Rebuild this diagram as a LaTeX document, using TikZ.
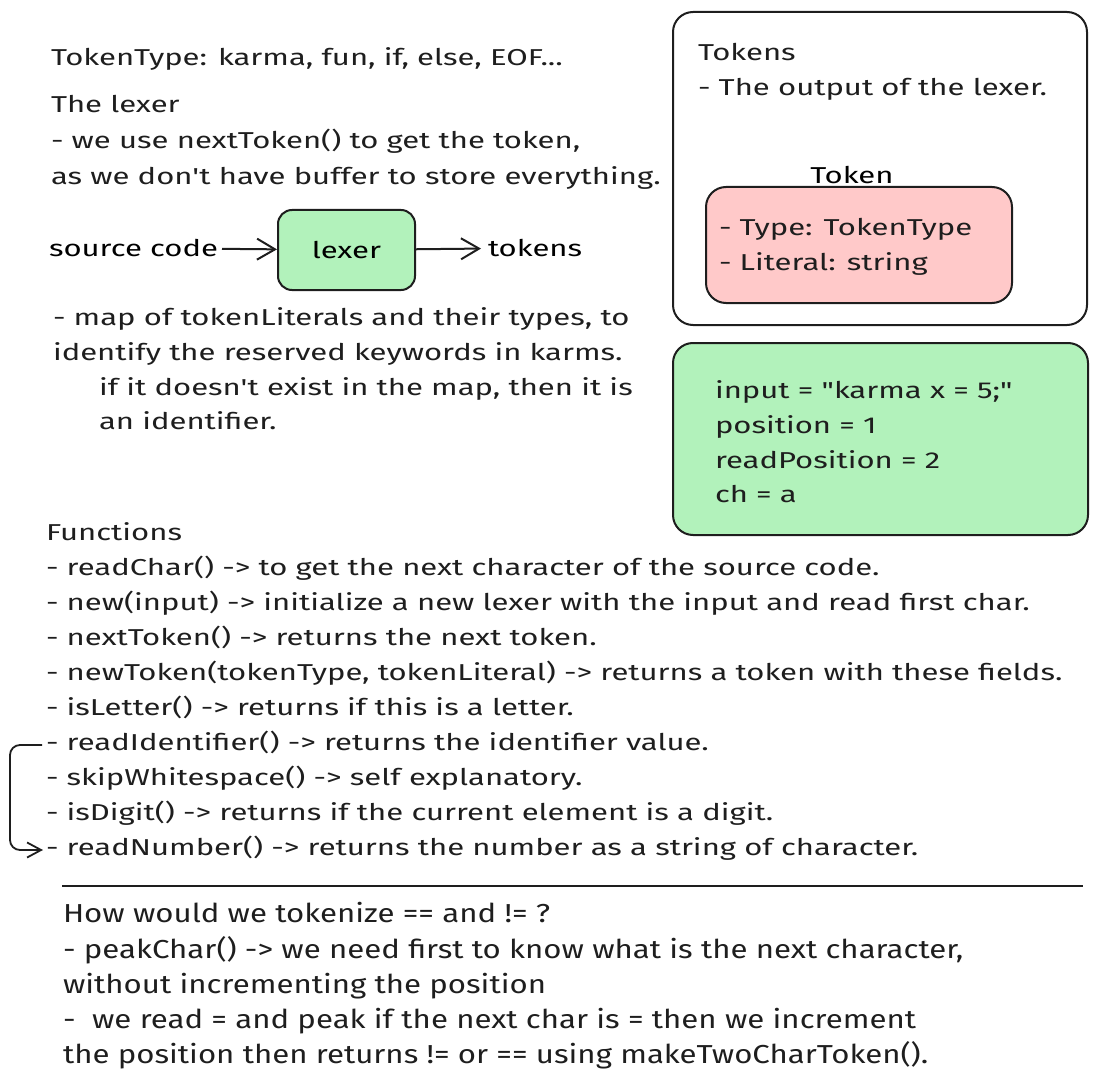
\documentclass[tikz,border=0pt]{standalone}
\usepackage{fontspec}
\setmainfont{Fira Sans}[FakeStretch=1.35,Ligatures=TeXOff]
\newfontfamily\notasfont{Fira Sans}[FakeStretch=1.2,Ligatures=TeXOff]
\usepackage{tikz}
\usetikzlibrary{arrows.meta,positioning}
\definecolor{VerdeLexer}{HTML}{B2F2BB}
\definecolor{RosaToken}{HTML}{FFC9C9}
\definecolor{TintaTrazo}{HTML}{1E1E1E}
\tikzset{
  linea/.style={anchor=west,inner sep=0pt,text height=16pt,text depth=5pt,text=TintaTrazo},
  caja/.style={draw=TintaTrazo,line width=2pt,rounded corners=20pt},
}

\begin{document}
\begin{tikzpicture}[>={Straight Barb[length=18pt,width=21pt]},x=1pt,y=-1pt,
  font=\fontsize{23}{27}\selectfont,line width=2pt,draw=TintaTrazo]
  \useasboundingbox (0,0) rectangle (1098,1086);
  % notas del lexer
  \node[linea] (tipos) at (50,60) {TokenType: karma, fun, if, else, EOF...};
  \node[linea] (titulo) at (50,107) {The lexer};
  \node[linea] (nota1) at (50,143) {- we use nextToken() to get the token,};
  \node[linea] (nota2) at (50,179) {as we don't have buffer to store everything.};
  \node[anchor=east,inner sep=3pt] (fuente) at (222,248) {source code};
  \node[caja,fill=VerdeLexer,rounded corners=14pt,minimum width=137pt,minimum height=80pt] (lexer) at (346.5,250) {lexer};
  \node[anchor=west,inner sep=6pt] (salida) at (481,248) {tokens};
  \draw[->] (fuente) -- (lexer);
  \draw[->] (lexer) -- (salida);
  \node[linea] (mapa1) at (52,320) {- map of tokenLiterals and their types, to};
  \node[linea] (mapa2) at (52,355) {identify the reserved keywords in karms.};
  \node[linea] (mapa3) at (98,390) {if it doesn't exist in the map, then it is};
  \node[linea] (mapa4) at (98,424) {an identifier.};
  % cajas de la derecha
  \draw[caja] (673,12) rectangle (1087,325);
  \node[linea] (tokens) at (697,55) {Tokens};
  \node[linea] (salidaLexer) at (697,90) {- The output of the lexer.};
  \node[inner sep=0pt] (token) at (852,175) {Token};
  \draw[caja,fill=RosaToken] (706,187) rectangle (1012,303);
  \node[linea] (campo1) at (718,230) {- Type: TokenType};
  \node[linea] (campo2) at (718,265) {- Literal: string};
  \draw[caja,fill=VerdeLexer] (673,343) rectangle (1088,535);
  \node[linea] (estado1) at (714,393) {input = "karma x = 5;"};
  \node[linea] (estado2) at (714,428) {position = 1};
  \node[linea] (estado3) at (714,463) {readPosition = 2};
  \node[linea] (estado4) at (714,497) {ch = a};
  % funciones
  \node[linea] (funciones) at (45,535) {Functions};
  \node[linea] (f1) at (45,570) {- readChar() -> to get the next character of the source code.};
  \node[linea] (f2) at (45,605) {- new(input) -> initialize a new lexer with the input and read first char.};
  \node[linea] (f3) at (45,640) {- nextToken() -> returns the next token.};
  \node[linea] (f4) at (45,675) {- newToken(tokenType, tokenLiteral) -> returns a token with these fields.};
  \node[linea] (f5) at (45,710) {- isLetter() -> returns if this is a letter.};
  \node[linea] (f6) at (45,745) {- readIdentifier() -> returns the identifier value.};
  \node[linea] (f7) at (45,780) {- skipWhitespace() -> self explanatory.};
  \node[linea] (f8) at (45,815) {- isDigit() -> returns if the current element is a digit.};
  \node[linea] (f9) at (45,850) {- readNumber() -> returns the number as a string of character.};
  \draw[->,>={Straight Barb[length=14pt,width=15pt]},rounded corners=10pt,line width=1.8pt] ([xshift=-3pt]f6.west) -- ++(-32,0) |- ([xshift=-2pt]f9.west);
  \draw[line width=2.8pt] (62,886) -- (1083,886);
  % dos caracteres
  \begin{scope}[font=\notasfont\fontsize{26}{30}\selectfont]
    \node[linea] (p1) at (62,917) {How would we tokenize == and != ?};
    \node[linea] (p2) at (62,953) {- peakChar() -> we need first to know what is the next character,};
    \node[linea] (p3) at (62,988) {without incrementing the position};
    \node[linea] (p4) at (62,1023) {-\ \ we read = and peak if the next char is = then we increment};
    \node[linea] (p5) at (62,1058) {the position then returns != or == using makeTwoCharToken().};
  \end{scope}
\end{tikzpicture}
\end{document}
